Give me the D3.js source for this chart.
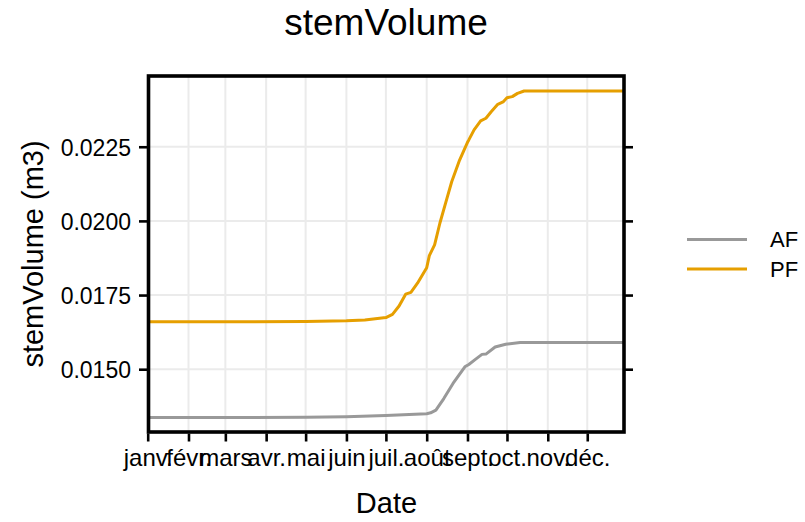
<!DOCTYPE html>
<html><head><meta charset="utf-8">
<script src="https://cdn.jsdelivr.net/npm/d3@7"></script>
<style>body{margin:0;background:#fff}svg{display:block}text{font-family:"Liberation Sans",Arial,sans-serif;fill:#000}</style>
</head><body><svg id="c" width="805" height="522"></svg>
<script>
const monthLabels = ["janv.","févr.","mars","avr.","mai","juin","juil.","août","sept.","oct.","nov.","déc."];
const yTicks = [0.0150, 0.0175, 0.0200, 0.0225];
const seriesNames = ["AF","PF"];
const seriesColors = ["#999999","#E69F00"];

const afDates = ["2021-01-01","2021-03-01","2021-05-01","2021-06-01","2021-07-01","2021-08-01","2021-08-04","2021-08-08","2021-08-14","2021-08-21","2021-08-30","2021-09-02","2021-09-07","2021-09-12","2021-09-15","2021-09-22","2021-09-30","2021-10-11","2021-12-29"];
const afValues = [0.01337,0.01337,0.01338,0.01340,0.01344,0.01350,0.01353,0.01362,0.01401,0.01452,0.01508,0.01516,0.01533,0.01550,0.01551,0.01575,0.01584,0.01590,0.01590];

const pfDates = ["2021-01-01","2021-03-01","2021-05-01","2021-06-01","2021-06-15","2021-07-01","2021-07-06","2021-07-11","2021-07-16","2021-07-20","2021-07-25","2021-08-01","2021-08-03","2021-08-07","2021-08-11","2021-08-16","2021-08-20","2021-08-26","2021-09-01","2021-09-02","2021-09-06","2021-09-11","2021-09-15","2021-09-19","2021-09-24","2021-09-28","2021-10-01","2021-10-05","2021-10-09","2021-10-14","2021-12-29"];
const pfValues = [0.01660,0.01660,0.01661,0.01663,0.01666,0.01674,0.01685,0.01713,0.01753,0.01759,0.01790,0.01842,0.01883,0.01919,0.01992,0.02070,0.02132,0.02205,0.02265,0.02273,0.02307,0.02337,0.02346,0.02368,0.02393,0.02401,0.02415,0.02419,0.02430,0.02438,0.02438];

const parse = d3.utcParse("%Y-%m-%d");
const series = [
  {name: seriesNames[0], color: seriesColors[0], pts: afDates.map((d,i)=>({x:parse(d), y:afValues[i]}))},
  {name: seriesNames[1], color: seriesColors[1], pts: pfDates.map((d,i)=>({x:parse(d), y:pfValues[i]}))}
];

const P = {l:148.5, r:624, t:76, b:432};
const svg = d3.select("#c");
const x = d3.scaleUtc().domain([parse("2021-01-01"), parse("2021-12-29")]).range([147.7, 624.1]);
const y = d3.scaleLinear().domain([0.012883, 0.024885]).range([P.b, P.t]);
const monthTicks = d3.utcMonth.range(parse("2021-01-01"), parse("2021-12-30"));

svg.append("defs").append("clipPath").attr("id","clip").append("rect")
  .attr("x",P.l).attr("y",P.t).attr("width",P.r-P.l).attr("height",P.b-P.t);

const grid = svg.append("g").attr("clip-path","url(#clip)");
grid.selectAll("line.v").data(monthTicks).join("line")
  .attr("x1",d=>x(d)).attr("x2",d=>x(d)).attr("y1",P.t).attr("y2",P.b)
  .attr("stroke","#EBEBEB").attr("stroke-width",2);
grid.selectAll("line.h").data(yTicks).join("line").attr("class","h")
  .attr("x1",P.l).attr("x2",P.r).attr("y1",d=>y(d)).attr("y2",d=>y(d))
  .attr("stroke","#EBEBEB").attr("stroke-width",2);

const line = d3.line().x(d=>x(d.x)).y(d=>y(d.y));
svg.append("g").attr("clip-path","url(#clip)").selectAll("path").data(series).join("path")
  .attr("d",d=>line(d.pts)).attr("fill","none").attr("stroke",d=>d.color)
  .attr("stroke-width",3).attr("stroke-linejoin","round");

// axes
const xAxis = d3.axisBottom(x).tickValues(monthTicks).tickSize(8).tickPadding(8)
  .tickFormat((d,i)=>monthLabels[d.getUTCMonth()]);
const gx = svg.append("g").attr("transform",`translate(0,${P.b+1.5})`).call(xAxis);
gx.select(".domain").remove();
gx.selectAll(".tick line").attr("stroke","#000").attr("stroke-width",2.6);
gx.selectAll(".tick text").attr("font-size",24).attr("fill","#000").attr("dy","0.7em");

const yAxis = d3.axisLeft(y).tickValues(yTicks).tickSize(8).tickPadding(8).tickFormat(d3.format(".4f"));
const gy = svg.append("g").attr("transform",`translate(${P.l-1.5},0)`).call(yAxis);
gy.select(".domain").remove();
gy.selectAll(".tick line").attr("stroke","#000").attr("stroke-width",2.6);
gy.selectAll(".tick text").attr("font-size",23).attr("fill","#000").attr("dy","0.36em");

const yAxisR = d3.axisRight(y).tickValues(yTicks).tickSize(9).tickFormat("");
const gyr = svg.append("g").attr("transform",`translate(${P.r},0)`).call(yAxisR);
gyr.select(".domain").remove();
gyr.selectAll(".tick line").attr("stroke","#000").attr("stroke-width",2.6);

// border
svg.append("rect").attr("x",P.l).attr("y",P.t).attr("width",P.r-P.l).attr("height",P.b-P.t)
  .attr("fill","none").attr("stroke","#000").attr("stroke-width",3.6);

// titles
svg.append("text").attr("x",386).attr("y",35).attr("text-anchor","middle").attr("font-size",37).text("stemVolume");
svg.append("text").attr("x",386.5).attr("y",513).attr("text-anchor","middle").attr("font-size",29).text("Date");
svg.append("text").attr("transform","translate(42.5,254) rotate(-90)").attr("text-anchor","middle").attr("font-size",29).text("stemVolume (m3)");

// legend
const leg = svg.append("g");
const legY = [239.5, 269];
series.forEach((s,i)=>{
  leg.append("line").attr("x1",687).attr("x2",747).attr("y1",legY[i]).attr("y2",legY[i])
    .attr("stroke",s.color).attr("stroke-width",3);
  leg.append("text").attr("x",770).attr("y",legY[i]).attr("dy","0.36em").attr("font-size",22).text(s.name);
});
</script></body></html>
